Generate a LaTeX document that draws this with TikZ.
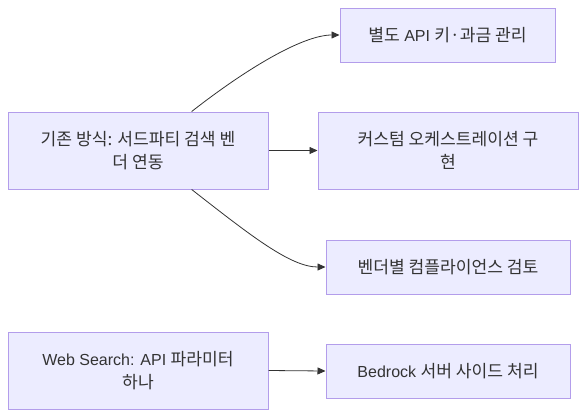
\documentclass[tikz,border=0pt]{standalone}
\usepackage{fontspec}
\setmainfont{Liberation Sans}
\newfontfamily\kr[Scale=1.07]{Noto Sans CJK KR}
\newcommand{\ko}[1]{{\kr #1}}
\usetikzlibrary{arrows.meta}

\definecolor{boxfill}{HTML}{ECECFF}
\definecolor{boxborder}{HTML}{B39DEB}
\definecolor{textgray}{HTML}{333333}

\begin{document}
\begin{tikzpicture}[x=1pt,y=-1pt,
    box/.style={draw=boxborder, fill=boxfill, text=textgray, line width=1pt,
      align=center, inner sep=0pt, font=\fontsize{16}{23}\selectfont},
    widebox/.style={box, minimum width=260pt, minimum height=77pt},
    slimbox/.style={box, minimum height=54pt},
    flow/.style={draw=textgray, line width=0.8pt, -{Triangle[length=8pt,width=7pt]}}]
    % Frame
    \useasboundingbox (0,0) rectangle (586,418);

    % Nodes
    \node[widebox] (legacy) at (138,150.5) {\ko{기존 방식: 서드파티 검색 벤}\\\ko{더 연동}};
    \node[slimbox, minimum width=215pt] (billing) at (447.5,35) {\ko{별도} API \ko{키·과금 관리}};
    \node[widebox] (orchestration) at (448,150.5) {\ko{커스텀 오케스트레이션 구}\\\ko{현}};
    \node[slimbox, minimum width=244pt] (compliance) at (448,267) {\ko{벤더별 컴플라이언스 검토}};

    \node[widebox] (websearch) at (138,370.5) {Web Search: API \ko{파라미터}\\\ko{하나}};
    \node[slimbox, minimum width=244pt] (serverside) at (448,371) {Bedrock \ko{서버 사이드 처리}};

    % Connectors
    \draw[flow] (legacy.36.5) .. controls +(-38:75) and +(-35,0) .. (billing.west);
    \draw[flow] (legacy.east) -- (orchestration.west);
    \draw[flow] (legacy.-36.5) .. controls +(38:75) and +(-35,0) .. (compliance.west);
    \draw[flow] (websearch.east) -- (serverside.west);
\end{tikzpicture}
\end{document}
